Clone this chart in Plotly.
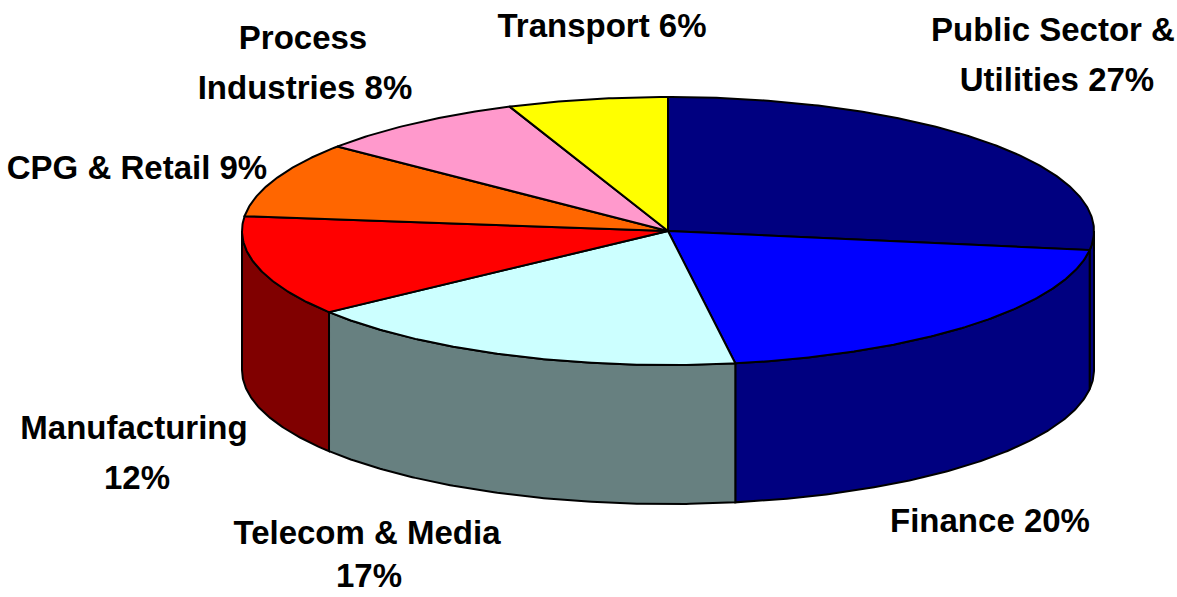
import numpy as np
import plotly.graph_objects as go

categories = ["Public Sector & Utilities", "Finance", "Telecom & Media", "Manufacturing",
              "CPG & Retail", "Process Industries", "Transport"]
values = [27, 20, 17, 12, 9, 8, 6]
top_colors = ["#000080", "#0000FF", "#CCFFFF", "#FF0000", "#FF6600", "#FF99CC", "#FFFF00"]
side_colors = ["#000080", "#000080", "#678080", "#800000", "#803300", "#804C66", "#808000"]
label_lines = ["Public Sector &", "Utilities 27%", "Finance 20%", "Telecom & Media", "17%",
               "Manufacturing", "12%", "CPG & Retail 9%", "Process", "Industries 8%", "Transport 6%"]
label_x = [1053, 1057, 990, 367, 369, 134, 137, 137, 303, 305, 602]
label_y = [33, 83, 524, 536, 579, 431, 481, 171, 41, 91, 29]

CX, CY, RX, RY, DEPTH = 668, 231, 426, 134, 139
FONT = "Liberation Sans, Arial, sans-serif"


def rim(a, b):
    n = max(int(abs(b - a)) * 2, 2)
    t = np.radians(np.linspace(a, b, n))
    return CX + RX * np.sin(t), CY - RY * np.cos(t)


total = sum(values)
edges = np.concatenate([[0], np.cumsum(values) / total * 360])
fig = go.Figure()
LINE = dict(color="black", width=2)

# sides, front half only
for i in range(len(values)):
    a, b = max(edges[i], 90), min(edges[i + 1], 270)
    if a >= b:
        continue
    x, y = rim(a, b)
    xs = np.concatenate([x, x[::-1], x[:1]])
    ys = np.concatenate([y, y[::-1] + DEPTH, y[:1]])
    fig.add_trace(go.Scatter(x=xs, y=ys, mode="lines", fill="toself", fillcolor=side_colors[i],
                             line=LINE, hoverinfo="skip", showlegend=False))

# top slices
for i, name in enumerate(categories):
    x, y = rim(edges[i], edges[i + 1])
    fig.add_trace(go.Scatter(x=np.concatenate([[CX], x, [CX]]), y=np.concatenate([[CY], y, [CY]]),
                             mode="lines", fill="toself", fillcolor=top_colors[i], line=LINE,
                             name=name, hoverinfo="name", showlegend=False))

fig.add_trace(go.Scatter(x=label_x, y=label_y, mode="text", text=label_lines, textposition="middle center",
                         textfont=dict(family=FONT, size=33, color="black", weight="bold"),
                         cliponaxis=False, hoverinfo="skip", showlegend=False))

fig.update_layout(width=1177, height=597, margin=dict(l=0, r=0, t=0, b=0), paper_bgcolor="white",
                  plot_bgcolor="white",
                  xaxis=dict(range=[0, 1177], visible=False),
                  yaxis=dict(range=[597, 0], visible=False))
fig.write_html("out.html", config={"displayModeBar": False},
               post_script="document.body.style.margin='0';document.documentElement.style.overflow='hidden';")
